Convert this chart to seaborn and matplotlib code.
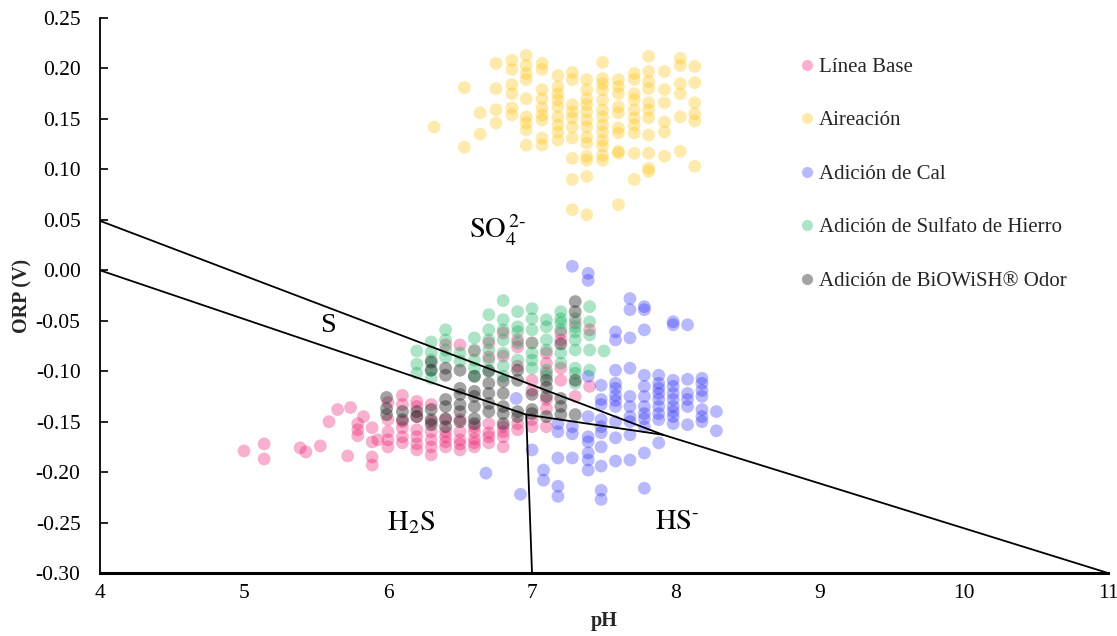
import matplotlib
matplotlib.use("Agg")
import matplotlib.pyplot as plt
from matplotlib.lines import Line2D
import pandas as pd
import seaborn as sns

# ---- Measurements: ORP (V) values grouped by pH reading, one mapping per series ----
linea_base = {
    5.00: [-0.179], 5.14: [-0.172, -0.187], 5.39: [-0.176], 5.43: [-0.180],
    5.53: [-0.174], 5.59: [-0.150], 5.65: [-0.138], 5.72: [-0.184], 5.74: [-0.136],
    5.79: [-0.152, -0.158, -0.164], 5.83: [-0.145],
    5.89: [-0.156, -0.170, -0.185, -0.193], 5.93: [-0.168],
    6.00: [-0.131, -0.148, -0.160, -0.168, -0.175],
    6.10: [-0.124, -0.133, -0.150, -0.156, -0.165, -0.171],
    6.20: [-0.130, -0.135, -0.145, -0.158, -0.165, -0.172, -0.178],
    6.30: [-0.133, -0.150, -0.160, -0.168, -0.175, -0.183],
    6.40: [-0.074, -0.148, -0.160, -0.165, -0.170, -0.175],
    6.50: [-0.074, -0.148, -0.160, -0.168, -0.172, -0.178],
    6.60: [-0.080, -0.155, -0.160, -0.167, -0.171, -0.175],
    6.70: [-0.072, -0.086, -0.152, -0.161, -0.165, -0.171],
    6.80: [-0.062, -0.085, -0.155, -0.160, -0.165, -0.175],
    6.90: [-0.069, -0.076, -0.095, -0.152, -0.158],
    7.00: [-0.072, -0.109, -0.119, -0.148, -0.155],
    7.10: [-0.082, -0.092, -0.102, -0.128, -0.137, -0.155],
    7.20: [-0.062, -0.069, -0.097, -0.109],
    7.30: [-0.052, -0.125],
    7.40: [-0.059, -0.115],
}

aireacion = {
    6.32: [0.142],
    6.53: [0.181, 0.122],
    6.64: [0.156, 0.135],
    6.75: [0.205, 0.180, 0.159, 0.146],
    6.86: [0.208, 0.199, 0.184, 0.175, 0.161, 0.154],
    6.96: [0.213, 0.203, 0.195, 0.189, 0.170, 0.152, 0.146, 0.139, 0.124],
    7.07: [0.205, 0.199, 0.179, 0.170, 0.161, 0.154, 0.149, 0.131, 0.124],
    7.18: [0.193, 0.182, 0.175, 0.169, 0.162, 0.152, 0.144, 0.137, 0.129],
    7.28: [0.196, 0.189, 0.164, 0.157, 0.151, 0.142, 0.131, 0.111, 0.090, 0.060],
    7.38: [0.189, 0.179, 0.170, 0.164, 0.157, 0.149, 0.142, 0.132, 0.126, 0.113,
           0.109, 0.093, 0.055],
    7.49: [0.206, 0.190, 0.185, 0.179, 0.169, 0.159, 0.152, 0.144, 0.137, 0.129,
           0.123, 0.114, 0.109],
    7.60: [0.189, 0.182, 0.175, 0.162, 0.156, 0.141, 0.136, 0.118, 0.116, 0.065],
    7.71: [0.195, 0.189, 0.175, 0.169, 0.159, 0.151, 0.144, 0.136, 0.116, 0.090],
    7.81: [0.212, 0.197, 0.187, 0.180, 0.166, 0.159, 0.151, 0.134, 0.116, 0.101, 0.098],
    7.92: [0.197, 0.179, 0.166, 0.147, 0.137, 0.113],
    8.03: [0.210, 0.203, 0.185, 0.175, 0.152, 0.118],
    8.13: [0.202, 0.186, 0.166, 0.155, 0.148, 0.103],
}

adicion_cal = {
    6.68: [-0.201], 6.89: [-0.127], 6.92: [-0.222], 7.00: [-0.178],
    7.08: [-0.198, -0.208],
    7.18: [-0.152, -0.160, -0.186, -0.214, -0.224],
    7.28: [0.004, -0.155, -0.162, -0.186],
    7.39: [-0.003, -0.010, -0.105, -0.145, -0.165, -0.170, -0.181, -0.188, -0.198],
    7.48: [-0.114, -0.128, -0.133, -0.148, -0.155, -0.161, -0.175, -0.194, -0.218, -0.227],
    7.58: [-0.061, -0.069, -0.099, -0.112, -0.117, -0.124, -0.129, -0.135, -0.150,
           -0.166, -0.189],
    7.68: [-0.028, -0.039, -0.067, -0.097, -0.125, -0.135, -0.145, -0.150, -0.163, -0.188],
    7.78: [-0.036, -0.039, -0.059, -0.104, -0.115, -0.125, -0.135, -0.142, -0.147,
           -0.155, -0.181, -0.216],
    7.88: [-0.104, -0.112, -0.117, -0.122, -0.128, -0.135, -0.142, -0.148, -0.171],
    7.98: [-0.051, -0.054, -0.109, -0.115, -0.122, -0.128, -0.135, -0.140, -0.145, -0.152],
    8.08: [-0.054, -0.108, -0.122, -0.128, -0.135, -0.153],
    8.18: [-0.107, -0.112, -0.119, -0.125, -0.138, -0.145, -0.150],
    8.28: [-0.140, -0.159],
}

sulfato_hierro = {
    6.20: [-0.080, -0.093, -0.102],
    6.30: [-0.071, -0.081, -0.089, -0.099, -0.107],
    6.40: [-0.059, -0.069, -0.079, -0.086],
    6.50: [-0.082, -0.090],
    6.60: [-0.067, -0.079, -0.089, -0.097, -0.105],
    6.70: [-0.044, -0.059, -0.069, -0.079, -0.089, -0.099],
    6.80: [-0.030, -0.049, -0.059, -0.069, -0.082, -0.095, -0.105],
    6.90: [-0.041, -0.056, -0.061, -0.072, -0.089],
    7.00: [-0.038, -0.048, -0.059, -0.072, -0.082, -0.089, -0.097],
    7.10: [-0.049, -0.056, -0.069, -0.079, -0.099, -0.105],
    7.20: [-0.041, -0.048, -0.052, -0.059, -0.082, -0.092],
    7.30: [-0.048, -0.056, -0.061, -0.069, -0.079, -0.097, -0.102, -0.112],
    7.40: [-0.036, -0.051, -0.064, -0.079, -0.099],
    7.50: [-0.080],
}

biowish = {
    5.99: [-0.126, -0.137, -0.143],
    6.10: [-0.140, -0.148],
    6.20: [-0.140, -0.145],
    6.30: [-0.091, -0.099, -0.138, -0.148, -0.153],
    6.40: [-0.097, -0.104, -0.128, -0.135, -0.147, -0.155],
    6.50: [-0.099, -0.117, -0.123, -0.133, -0.140, -0.150],
    6.60: [-0.105, -0.120, -0.125, -0.135, -0.147, -0.152],
    6.70: [-0.100, -0.112, -0.122, -0.132, -0.140],
    6.80: [-0.110, -0.122, -0.135, -0.142, -0.152],
    6.90: [-0.099, -0.109, -0.140, -0.145],
    7.00: [-0.123, -0.138, -0.142],
    7.10: [-0.109, -0.116, -0.125, -0.145],
    7.20: [-0.073, -0.127, -0.135, -0.143],
    7.30: [-0.031, -0.041, -0.109, -0.143],
}

series_names = ["Línea Base", "Aireación", "Adición de Cal",
                "Adición de Sulfato de Hierro", "Adición de BiOWiSH® Odor"]
series_data = [linea_base, aireacion, adicion_cal, sulfato_hierro, biowish]
series_colors = ["#ea1a6e", "#ffc000", "#1a1aff", "#00a850", "#1a1a1a"]
series_alpha = [0.34, 0.32, 0.30, 0.32, 0.40]

# ---- Stability-field boundaries of the sulfur system (pH, ORP in V) ----
so4_s_ph, so4_s_orp = [4.0, 7.91], [0.049, -0.163]
s_h2s_ph, s_h2s_orp = [4.0, 6.96], [0.0, -0.143]
s_hs_ph, s_hs_orp = [6.96, 7.91], [-0.143, -0.163]
so4_hs_ph, so4_hs_orp = [7.91, 11.0], [-0.163, -0.30]
h2s_hs_ph, h2s_hs_orp = [6.96, 7.0], [-0.143, -0.30]
boundaries = [(so4_s_ph, so4_s_orp), (s_h2s_ph, s_h2s_orp), (s_hs_ph, s_hs_orp),
              (so4_hs_ph, so4_hs_orp), (h2s_hs_ph, h2s_hs_orp)]

# Species labels and where they sit
species_labels = [r"$\mathrm{SO_4^{\,2\text{-}}}$", "S", r"$\mathrm{H_2S}$",
                  r"$\mathrm{HS^{\text{-}}}$"]
species_ph = [6.76, 5.58, 6.16, 8.01]
species_orp = [0.040, -0.055, -0.250, -0.250]

sns.set_theme(style="white")
plt.rcParams["font.family"] = ["Liberation Serif", "DejaVu Serif"]
plt.rcParams["mathtext.fontset"] = "stix"
plt.rcParams["axes.unicode_minus"] = False

fig = plt.figure(figsize=(11.17, 6.36), dpi=100)
ax = fig.add_axes([0.0895, 0.099, 0.9025, 0.8727])

for name, mapping, color, a in zip(series_names, series_data, series_colors, series_alpha):
    df = pd.DataFrame([(ph, v) for ph, values in mapping.items() for v in values],
                      columns=["pH", "ORP"])
    sns.scatterplot(data=df, x="pH", y="ORP", color=color, s=85, alpha=a,
                    edgecolor="none", linewidth=0, ax=ax, legend=False, zorder=2)

for xs, ys in boundaries:
    sns.lineplot(x=xs, y=ys, color="black", linewidth=1.3, ax=ax, zorder=3,
                 estimator=None, sort=False)

for lab, px, py in zip(species_labels, species_ph, species_orp):
    ax.text(px, py, lab, fontsize=20.5, ha="center", va="center", color="black", zorder=4)

ax.set_xlim(4, 11)
ax.set_ylim(-0.30, 0.25)
ax.set_xticks(range(4, 12))
ax.set_yticks([round(-0.30 + 0.05 * i, 2) for i in range(12)])
ax.yaxis.set_major_formatter(matplotlib.ticker.FormatStrFormatter("%.2f"))
ax.tick_params(axis="y", direction="in", length=6, width=1.2, labelsize=15.5, pad=14,
               left=True, colors="black")
ax.tick_params(axis="x", length=0, labelsize=15.5, pad=8, colors="black")

for side in ["top", "right"]:
    ax.spines[side].set_visible(False)
ax.spines["left"].set_linewidth(1.3)
ax.spines["left"].set_color("black")
ax.spines["bottom"].set_linewidth(2.2)
ax.spines["bottom"].set_color("black")

ax.set_xlabel("pH", fontsize=14.5, fontweight="bold", labelpad=6)
ax.set_ylabel("ORP (V)", fontsize=14.5, fontweight="bold", labelpad=2)

handles = [Line2D([], [], linestyle="none", marker="o", markersize=8,
                  markerfacecolor=c, markeredgecolor="none", alpha=a)
           for c, a in zip(series_colors, series_alpha)]
fig.legend(handles, series_names, loc="upper left", bbox_to_anchor=(0.716, 0.910),
           frameon=False, fontsize=15, handlelength=0.7, handletextpad=0.2,
           labelspacing=1.63, borderpad=0, borderaxespad=0)

fig.savefig("out.png", dpi=100)
